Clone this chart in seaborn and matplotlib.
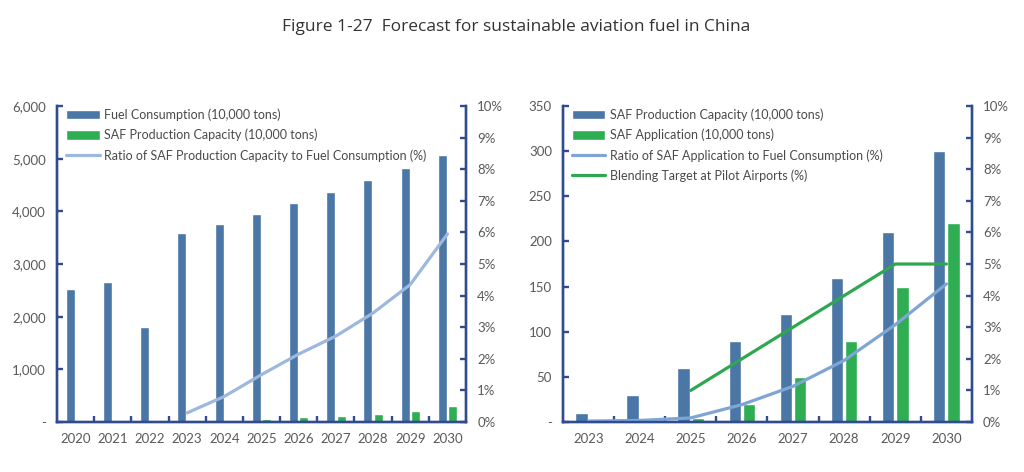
import matplotlib
matplotlib.use("Agg")
import matplotlib.pyplot as plt
import matplotlib.ticker as mticker
import seaborn as sns
import pandas as pd
import numpy as np

# left chart data
years_left = ['2020', '2021', '2022', '2023', '2024', '2025', '2026', '2027', '2028', '2029', '2030']
fuel_consumption = [2520, 2650, 1810, 3580, 3760, 3950, 4150, 4370, 4600, 4820, 5070]
saf_capacity_left = [0, 0, 0, 10, 30, 60, 90, 120, 160, 210, 300]
ratio_capacity = [np.nan, np.nan, np.nan, 0.29, 0.81, 1.50, 2.15, 2.72, 3.45, 4.35, 5.95]

# right chart data
years_right = ['2023', '2024', '2025', '2026', '2027', '2028', '2029', '2030']
saf_capacity_right = [10, 30, 60, 90, 120, 160, 210, 300]
saf_application = [1, 2, 5, 20, 50, 90, 150, 220]
ratio_application = [0.03, 0.05, 0.13, 0.55, 1.13, 1.95, 3.08, 4.37]
blending_target = [np.nan, np.nan, 1, 2, 3, 4, 5, 5]

BLUE = '#4A77A5'
GREEN = '#2FAD52'
LIGHT_BLUE_L = '#9DB8DE'
LIGHT_BLUE_R = '#7EA5D6'
GREEN_LINE = '#2EA84F'
SPINE = '#2F4C8E'
TEXT = '#595959'

sns.set_style('white')
plt.rcParams['font.family'] = ['Lato', 'DejaVu Sans']


def style_axes(ax, ax2):
    # dark blue frame on left, bottom, right; ticks pointing inward
    for a in (ax, ax2):
        a.spines['top'].set_visible(False)
        for side in ['left', 'right', 'bottom']:
            a.spines[side].set_color(SPINE)
            a.spines[side].set_linewidth(1.7)
    ax.tick_params(axis='y', left=True, direction='in', length=4, width=1.7, color=SPINE,
                   labelsize=9.5, labelcolor=TEXT, pad=8)
    ax2.tick_params(axis='y', right=True, direction='in', length=4, width=1.7, color=SPINE,
                    labelsize=9.5, labelcolor=TEXT, pad=8)
    ax.tick_params(axis='x', which='major', bottom=True, length=0, labelsize=9.5,
                   labelcolor=TEXT, pad=8)
    ax.tick_params(axis='x', which='minor', bottom=True, direction='in', length=4,
                   width=1.7, color=SPINE)
    ax.set_xlabel('')
    ax.set_ylabel('')
    ax2.set_ylabel('')
    ax2.yaxis.set_major_formatter(mticker.FuncFormatter(lambda v, p: f'{v:.0f}%'))
    ax2.set_ylim(0, 10)
    ax2.set_yticks(range(0, 11))


def draw_panel(ax, years, bar_names, bar_values, bar_colors, line_names, line_values,
               line_colors, ymax, ystep, thousands):
    df = pd.DataFrame({
        'year': years * len(bar_names),
        'series': sum([[n] * len(years) for n in bar_names], []),
        'value': sum(bar_values, []),
    })
    sns.barplot(data=df, x='year', y='value', hue='series', palette=bar_colors,
                width=0.56, gap=0.14, saturation=1, ax=ax, legend=True)
    ax.set_xlim(-0.5, len(years) - 0.5)
    ax.set_ylim(0, ymax)
    ax.set_yticks(np.arange(0, ymax + 1, ystep))
    if thousands:
        ax.yaxis.set_major_formatter(mticker.FuncFormatter(
            lambda v, p: '-' if v == 0 else f'{v:,.0f}'))
    else:
        ax.yaxis.set_major_formatter(mticker.FuncFormatter(
            lambda v, p: '-' if v == 0 else f'{v:.0f}'))
    ax.set_xticks(np.arange(0.5, len(years) - 1, 1), minor=True)

    ax2 = ax.twinx()
    pos = list(range(len(years)))
    for name, vals, col in zip(line_names, line_values, line_colors):
        sns.lineplot(x=pos, y=vals, color=col, linewidth=2.3, ax=ax2, label=name)
    style_axes(ax, ax2)

    h1, l1 = ax.get_legend_handles_labels()
    h2, l2 = ax2.get_legend_handles_labels()
    ax.get_legend().remove()
    ax2.get_legend().remove()
    leg = ax2.legend(h1 + h2, l1 + l2, loc='upper left', bbox_to_anchor=(0.0, 1.02),
                     frameon=False, fontsize=9, handlelength=2.7, handleheight=0.8,
                     labelspacing=0.62, handletextpad=0.35, borderaxespad=0.3)
    for t in leg.get_texts():
        t.set_color('#4A4A4A')
    return ax2


fig = plt.figure(figsize=(10.24, 4.72), dpi=100)
ax_l = fig.add_axes([0.0557, 0.1059, 0.3994, 0.6695])
ax_r = fig.add_axes([0.5498, 0.1059, 0.3994, 0.6695])

draw_panel(ax_l, years_left,
           ['Fuel Consumption (10,000 tons)', 'SAF Production Capacity (10,000 tons)'],
           [fuel_consumption, saf_capacity_left], [BLUE, GREEN],
           ['Ratio of SAF Production Capacity to Fuel Consumption (%)'],
           [ratio_capacity], [LIGHT_BLUE_L], 6000, 1000, True)

draw_panel(ax_r, years_right,
           ['SAF Production Capacity (10,000 tons)', 'SAF Application (10,000 tons)'],
           [saf_capacity_right, saf_application], [BLUE, GREEN],
           ['Ratio of SAF Application to Fuel Consumption (%)', 'Blending Target at Pilot Airports (%)'],
           [ratio_application, blending_target], [LIGHT_BLUE_R, GREEN_LINE], 350, 50, False)

fig.text(0.504, 0.942, 'Figure 1-27  Forecast for sustainable aviation fuel in China',
         ha='center', va='center', fontsize=12.5, color='#333333',
         family=['Open Sans', 'DejaVu Sans'])

fig.savefig('out.png', dpi=100, facecolor='white')
